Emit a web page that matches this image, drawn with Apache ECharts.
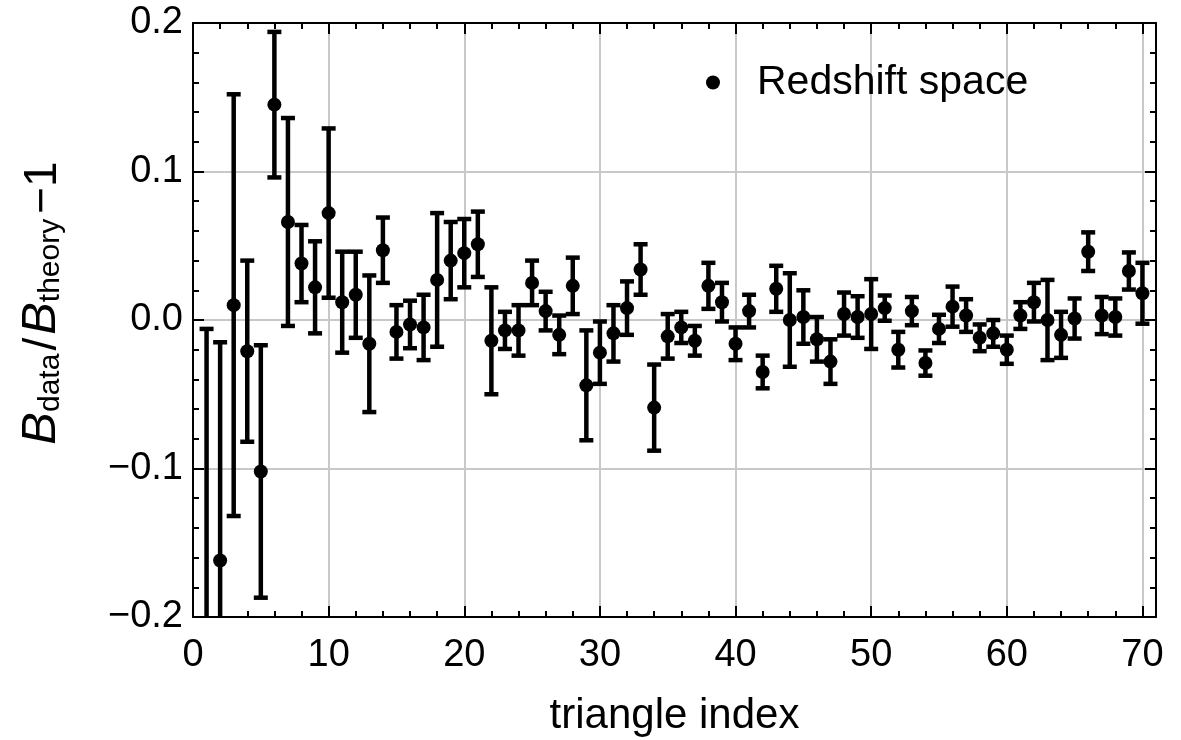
<!DOCTYPE html>
<html>
<head>
<meta charset="utf-8">
<script src="https://cdn.jsdelivr.net/npm/echarts@6/dist/echarts.min.js"></script>
<style>html,body{margin:0;padding:0;background:#fff}#c{width:1181px;height:740px}</style>
</head>
<body>
<div id="c"></div>
<script>
// triangle index
const indices = [1,2,3,4,5,6,7,8,9,10,11,12,13,14,15,16,17,18,19,20,21,22,23,24,25,26,27,28,29,30,31,32,33,34,35,36,37,38,39,40,41,42,43,44,45,46,47,48,49,50,51,52,53,54,55,56,57,58,59,60,61,62,63,64,65,66,67,68,69,70];
// B_data/B_theory - 1
const values = [-0.25,-0.162,0.010,-0.021,-0.102,0.145,0.066,0.038,0.022,0.072,
  0.012,0.017,-0.016,0.047,-0.008,-0.003,-0.005,0.027,0.040,0.045,
  0.051,-0.014,-0.007,-0.007,0.025,0.006,-0.010,0.023,-0.044,-0.022,
  -0.009,0.008,0.034,-0.059,-0.011,-0.005,-0.014,0.023,0.012,-0.016,
  0.006,-0.035,0.021,0.000,0.002,-0.013,-0.028,0.004,0.002,0.004,
  0.008,-0.020,0.006,-0.029,-0.006,0.009,0.003,-0.012,-0.009,-0.020,
  0.003,0.012,0.000,-0.010,0.001,0.046,0.003,0.002,0.033,0.018];
// symmetric 1-sigma errors
const errors = [0.244,0.147,0.142,0.061,0.085,0.049,0.070,0.026,0.031,0.057,
  0.034,0.029,0.046,0.022,0.018,0.016,0.022,0.045,0.026,0.023,
  0.022,0.036,0.0125,0.017,0.015,0.013,0.013,0.019,0.037,0.021,
  0.019,0.018,0.017,0.029,0.015,0.0105,0.010,0.0155,0.013,0.011,
  0.011,0.011,0.0155,0.0315,0.018,0.015,0.015,0.0145,0.014,0.0235,
  0.0085,0.012,0.0095,0.0085,0.0095,0.0135,0.011,0.009,0.009,0.0095,
  0.009,0.013,0.027,0.0155,0.0135,0.013,0.0125,0.0125,0.0125,0.0205];
const yTicks = [-0.2,-0.1,0.0,0.1,0.2];
const seriesName = 'Redshift space';

const FONT = '"Liberation Sans", Arial, Helvetica, sans-serif';
const pointData = indices.map((x, i) => [x, values[i]]);
const errData = indices.map((x, i) => [x, values[i] - errors[i], values[i] + errors[i]]);

const chart = echarts.init(document.getElementById('c'), null, {renderer: 'canvas'});
const gridRect = {left: 193, right: 25, top: 23, bottom: 123, outerBoundsMode: 'none', containLabel: false};
const frameLine = {show: true, onZero: false, lineStyle: {color: '#000', width: 2}};
const gridSplit = {show: true, lineStyle: {color: '#c8c8c8', width: 2}};
const noLine = {show: false, onZero: false};

chart.setOption({
  animation: false,
  backgroundColor: '#fff',
  grid: [Object.assign({}, gridRect), Object.assign({}, gridRect)],
  legend: {
    data: [{name: seriesName, icon: 'circle'}],
    left: 706, top: 62, padding: 0,
    itemWidth: 14, itemHeight: 14,
    textStyle: {fontFamily: FONT, fontSize: 41, color: '#000', padding: [0, 0, 0, 32]},
    selectedMode: false
  },
  xAxis: [
    {gridIndex: 0, type: 'value', position: 'bottom', min: 0, max: 71, interval: 10,
     axisLine: frameLine, splitLine: gridSplit,
     axisTick: {show: true, inside: true, length: 11, lineStyle: {color: '#000', width: 2}},
     axisLabel: {show: true, showMaxLabel: false, margin: 20, fontFamily: FONT, fontSize: 38, color: '#000'},
     name: 'triangle index', nameLocation: 'middle', nameGap: 78,
     nameTextStyle: {fontFamily: FONT, fontSize: 42, color: '#000'}},
    {gridIndex: 0, type: 'value', position: 'top', min: 0, max: 71, interval: 10,
     axisLine: frameLine, splitLine: {show: false},
     axisTick: {show: true, inside: true, length: 11, lineStyle: {color: '#000', width: 2}},
     axisLabel: {show: false}},
    {gridIndex: 1, type: 'value', position: 'bottom', min: 0, max: 71, interval: 2,
     axisLine: noLine, splitLine: {show: false},
     axisTick: {show: true, inside: true, length: 6, lineStyle: {color: '#000', width: 2}},
     axisLabel: {show: false}},
    {gridIndex: 1, type: 'value', position: 'top', min: 0, max: 71, interval: 2,
     axisLine: noLine, splitLine: {show: false},
     axisTick: {show: true, inside: true, length: 6, lineStyle: {color: '#000', width: 2}},
     axisLabel: {show: false}}
  ],
  yAxis: [
    {gridIndex: 0, type: 'value', position: 'left', min: yTicks[0], max: yTicks[yTicks.length - 1], interval: 0.1,
     axisLine: frameLine, splitLine: gridSplit,
     axisTick: {show: true, inside: true, length: 11, lineStyle: {color: '#000', width: 2}},
     minorTick: {show: true, splitNumber: 5, length: 6, lineStyle: {color: '#000', width: 2}},
     axisLabel: {show: true, margin: 10, fontFamily: FONT, fontSize: 38, color: '#000',
       formatter: v => (v < -1e-9 ? '\u2212' : '') + Math.abs(v).toFixed(1)}},
    {gridIndex: 0, type: 'value', position: 'right', min: yTicks[0], max: yTicks[yTicks.length - 1], interval: 0.1,
     axisLine: frameLine, splitLine: {show: false},
     axisTick: {show: true, inside: true, length: 11, lineStyle: {color: '#000', width: 2}},
     minorTick: {show: true, splitNumber: 5, length: 6, lineStyle: {color: '#000', width: 2}},
     axisLabel: {show: false}},
    {gridIndex: 1, type: 'value', min: yTicks[0], max: yTicks[yTicks.length - 1], show: false,
     axisLine: noLine}
  ],
  graphic: [{
    type: 'text', x: 41, y: 303, rotation: Math.PI / 2,
    style: {
      text: '{b|B}{s|data}{sl|/}{b|B}{s|theory}{m|\u22121}',
      align: 'center', verticalAlign: 'middle',
      rich: {
        b: {fontFamily: FONT, fontSize: 49, fontStyle: 'italic', color: '#000', lineHeight: 50, verticalAlign: 'bottom'},
        sl: {fontFamily: FONT, fontSize: 46, color: '#000', lineHeight: 50, verticalAlign: 'bottom', padding: [0, 3, 0, 3]},
        m: {fontFamily: FONT, fontSize: 46, color: '#000', lineHeight: 50, verticalAlign: 'bottom', padding: [0, 0, 0, 5]},
        s: {fontFamily: FONT, fontSize: 30, color: '#000', lineHeight: 30, verticalAlign: 'bottom'}
      }
    }
  }],
  series: [
    {
      type: 'custom', name: 'errorbars', xAxisIndex: 0, yAxisIndex: 0, clip: true,
      data: errData, z: 3,
      renderItem: function (params, api) {
        const x = api.value(0), lo = api.value(1), hi = api.value(2);
        const pLo = api.coord([x, lo]), pHi = api.coord([x, hi]);
        const hw = 7;
        const st = {stroke: '#000', lineWidth: 4.5};
        return {type: 'group', children: [
          {type: 'line', shape: {x1: pLo[0], y1: pLo[1], x2: pHi[0], y2: pHi[1]}, style: st},
          {type: 'line', shape: {x1: pHi[0] - hw, y1: pHi[1], x2: pHi[0] + hw, y2: pHi[1]}, style: st},
          {type: 'line', shape: {x1: pLo[0] - hw, y1: pLo[1], x2: pLo[0] + hw, y2: pLo[1]}, style: st}
        ]};
      }
    },
    {
      type: 'scatter', name: seriesName, xAxisIndex: 0, yAxisIndex: 0,
      data: pointData, symbol: 'circle', symbolSize: 14, z: 4, clip: true,
      itemStyle: {color: '#000', opacity: 1}
    }
  ]
});
</script>
</body>
</html>
